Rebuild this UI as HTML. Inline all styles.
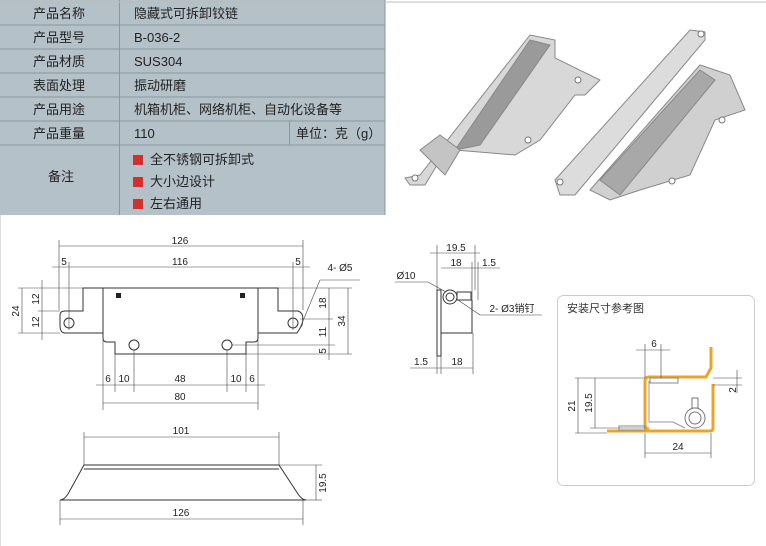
<!DOCTYPE html>
<html><head><meta charset="utf-8"><style>
body{margin:0;width:766px;height:546px;background:#fff;overflow:hidden;font-family:"Liberation Sans","Noto Sans CJK SC",sans-serif}
svg{position:absolute;left:0;top:0}
</style></head><body>
<svg width="766" height="546" viewBox="0 0 766 546" font-family="Liberation Sans, Noto Sans CJK SC, sans-serif">
<!-- table -->
<rect x="0" y="0" width="385" height="215" fill="#b4c1c9"/>
<g stroke="#8a979f" stroke-width="1">
<line x1="0" y1="25" x2="385" y2="25"/><line x1="0" y1="49" x2="385" y2="49"/>
<line x1="0" y1="73" x2="385" y2="73"/><line x1="0" y1="97" x2="385" y2="97"/>
<line x1="0" y1="121" x2="385" y2="121"/><line x1="0" y1="145" x2="385" y2="145"/>
<line x1="119.5" y1="0" x2="119.5" y2="215"/><line x1="289.5" y1="121" x2="289.5" y2="145"/>
<line x1="385" y1="0" x2="385" y2="215"/>
</g>
<g font-size="13" fill="#222">
<text x="33" y="18">产品名称</text><text x="33" y="42">产品型号</text><text x="33" y="66">产品材质</text>
<text x="33" y="90">表面处理</text><text x="33" y="114">产品用途</text><text x="33" y="138">产品重量</text>
<text x="48" y="181">备注</text>
<text x="134" y="18">隐藏式可拆卸铰链</text><text x="134" y="42">B-036-2</text><text x="134" y="66">SUS304</text>
<text x="134" y="90">振动研磨</text><text x="134" y="114">机箱机柜、网络机柜、自动化设备等</text>
<text x="134" y="138">110</text><text x="296" y="138">单位：克（g）</text>
<text x="150" y="164">全不锈钢可拆卸式</text><text x="150" y="186">大小边设计</text><text x="150" y="208">左右通用</text>
</g>
<rect x="133" y="155" width="10" height="10" fill="#d0312d"/><rect x="133" y="177" width="10" height="10" fill="#d0312d"/><rect x="133" y="199" width="10" height="10" fill="#d0312d"/>
<line x1="0" y1="2" x2="766" y2="2" stroke="#bbb"/>
<line x1="0" y1="215" x2="0" y2="546" stroke="#bbb"/>
<!-- photos -->
<g stroke="#888" stroke-width="1">
<polygon points="405,178 420,175 530,35 555,40 555,58 600,80 585,95 575,95 540,140 515,155 455,150 440,160 425,185 410,185" fill="#d8d8d8"/>
<polygon points="455,150 530,40 550,45 480,145" fill="#9a9a9a"/>
<polygon points="420,150 440,135 460,150 445,175" fill="#c4c4c4"/>
<polygon points="555,180 690,30 705,32 705,40 575,195 560,195" fill="#dcdcdc"/>
<polygon points="590,190 700,65 730,75 745,110 715,120 690,175 640,190 610,200" fill="#d0d0d0"/>
<polygon points="600,180 700,70 715,80 620,195" fill="#a8a8a8"/>
</g>
<g fill="#fff" stroke="#777"><circle cx="415" cy="178" r="3"/><circle cx="578" cy="80" r="3"/><circle cx="528" cy="140" r="3"/><circle cx="560" cy="182" r="3"/><circle cx="701" cy="34" r="3"/><circle cx="722" cy="120" r="3"/><circle cx="672" cy="181" r="3"/></g>
<!-- front view -->
<g stroke="#333" stroke-width="1" fill="none">
<path d="M83,288 H278 V311 H298 Q305,313 302,325 L297,333 H258 V338 Q258,342 254,342 H246 V354 H115 V342 H107 Q103,342 103,338 V333 H65 Q60,333 60,325 V315 Q60,311 65,311 H83 Z"/>
<line x1="103" y1="288" x2="103" y2="333"/><line x1="258" y1="288" x2="258" y2="333"/>
</g>
<g fill="none" stroke="#333"><circle cx="69" cy="323" r="5"/><circle cx="293" cy="323" r="5"/><circle cx="134" cy="345" r="5"/><circle cx="227" cy="345" r="5"/></g>
<rect x="116" y="293" width="5" height="5" fill="#222"/><rect x="240" y="293" width="5" height="5" fill="#222"/>
<g stroke="#444" stroke-width="0.6" fill="none">
<line x1="59" y1="240" x2="59" y2="310"/><line x1="303" y1="240" x2="303" y2="310"/>
<line x1="59" y1="246" x2="303" y2="246"/>
<line x1="52" y1="267" x2="310" y2="267"/>
<line x1="69" y1="262" x2="69" y2="330"/><line x1="293" y1="262" x2="293" y2="330"/>
<line x1="22" y1="288" x2="22" y2="333"/><line x1="42" y1="280" x2="42" y2="340"/>
<line x1="18" y1="288" x2="83" y2="288"/><line x1="18" y1="333" x2="60" y2="333"/><line x1="38" y1="311" x2="60" y2="311"/>
<line x1="278" y1="288" x2="352" y2="288"/><line x1="300" y1="319" x2="333" y2="319"/><line x1="232" y1="345" x2="335" y2="345"/><line x1="246" y1="354" x2="352" y2="354"/>
<line x1="329" y1="288" x2="329" y2="360"/><line x1="348" y1="288" x2="348" y2="354"/>
<line x1="96" y1="385" x2="265" y2="385"/><line x1="103" y1="403" x2="258" y2="403"/>
<line x1="115" y1="354" x2="115" y2="392"/><line x1="134" y1="350" x2="134" y2="392"/><line x1="227" y1="350" x2="227" y2="392"/><line x1="246" y1="354" x2="246" y2="392"/>
<line x1="103" y1="340" x2="103" y2="410"/><line x1="258" y1="340" x2="258" y2="410"/>
<line x1="300" y1="328" x2="320" y2="280"/><line x1="320" y1="280" x2="360" y2="280"/>
</g>
<g font-size="10" fill="#222" text-anchor="middle">
<text x="180" y="244">126</text><text x="180" y="265">116</text><text x="64" y="265">5</text><text x="298" y="265">5</text>
<text x="340" y="271">4- Ø5</text>
<text x="108" y="382">6</text><text x="124" y="382">10</text><text x="180" y="382">48</text><text x="236" y="382">10</text><text x="252" y="382">6</text>
<text x="180" y="400">80</text>
<text transform="translate(19,311) rotate(-90)">24</text><text transform="translate(39,299) rotate(-90)">12</text><text transform="translate(39,322) rotate(-90)">12</text>
<text transform="translate(326,303) rotate(-90)">18</text><text transform="translate(326,332) rotate(-90)">11</text><text transform="translate(326,351) rotate(-90)">5</text><text transform="translate(345,321) rotate(-90)">34</text>
</g>
<!-- bottom view -->
<g stroke="#333" fill="none">
<path d="M84,465 H279 L298,494 Q302,500 306,500 H60 Q64,500 68,494 Z"/>
<line x1="84" y1="469" x2="279" y2="469"/>
</g>
<g stroke="#444" stroke-width="0.6">
<line x1="84" y1="437" x2="279" y2="437"/><line x1="84" y1="432" x2="84" y2="465"/><line x1="279" y1="432" x2="279" y2="465"/>
<line x1="60" y1="519" x2="303" y2="519"/><line x1="60" y1="500" x2="60" y2="525"/><line x1="303" y1="500" x2="303" y2="525"/>
<line x1="316" y1="465" x2="316" y2="500"/><line x1="279" y1="465" x2="322" y2="465"/><line x1="306" y1="500" x2="322" y2="500"/>
</g>
<g font-size="10" fill="#222" text-anchor="middle"><text x="181" y="434">101</text><text x="181" y="516">126</text><text transform="translate(326,483) rotate(-90)">19.5</text></g>
<!-- side view -->
<g stroke="#333" fill="none">
<rect x="437" y="290" width="4" height="66"/>
<path d="M441,300 V333 H472 V300"/>
<circle cx="450" cy="297" r="7"/><circle cx="450" cy="297" r="4"/>
<rect x="457" y="292" width="14" height="8"/>
</g>
<g stroke="#444" stroke-width="0.6">
<line x1="430" y1="253" x2="480" y2="253"/><line x1="437" y1="245" x2="437" y2="290"/><line x1="475" y1="245" x2="475" y2="290"/>
<line x1="441" y1="268" x2="500" y2="268"/><line x1="472" y1="262" x2="472" y2="300"/><line x1="478" y1="262" x2="478" y2="300"/>
<line x1="395" y1="282" x2="428" y2="282"/><line x1="428" y1="282" x2="446" y2="292"/>
<line x1="458" y1="300" x2="480" y2="315"/><line x1="480" y1="315" x2="542" y2="315"/>
<line x1="410" y1="368" x2="473" y2="368"/><line x1="437" y1="356" x2="437" y2="374"/><line x1="441" y1="356" x2="441" y2="374"/><line x1="473" y1="333" x2="473" y2="374"/>
</g>
<g font-size="10" fill="#222" text-anchor="middle"><text x="456" y="251">19.5</text><text x="456" y="266">18</text><text x="489" y="266">1.5</text>
<text x="406" y="279">Ø10</text><text x="512" y="312">2- Ø3销钉</text><text x="421" y="365">1.5</text><text x="457" y="365">18</text></g>
<!-- install box -->
<rect x="557.5" y="295.5" width="197" height="190" rx="6" fill="#fff" stroke="#ccc"/>
<text x="567" y="312" font-size="11" fill="#333">安装尺寸参考图</text>
<g fill="none">
<path d="M711,347 V368 L706,377 H649 Q645,377 645,381 V425 Q645,429 649,429" stroke="#e8a628" stroke-width="3"/>
<path d="M607,431 H710 Q713,431 713,428 V384" stroke="#e8a628" stroke-width="3"/>
<path d="M649,381 V422 H673 L685,428" stroke="#999" stroke-width="1"/>
<circle cx="695" cy="418" r="10" stroke="#777"/><circle cx="695" cy="418" r="6" stroke="#777"/>
<rect x="692" y="398" width="6" height="10" stroke="#777"/>
<rect x="650" y="378" width="28" height="5" stroke="#888"/>
<rect x="619" y="426" width="26" height="4" stroke="#888"/>
</g>
<g stroke="#444" stroke-width="0.6">
<line x1="636" y1="350" x2="670" y2="350"/><line x1="645" y1="344" x2="645" y2="378"/><line x1="661" y1="344" x2="661" y2="378"/>
<line x1="575" y1="378" x2="645" y2="378"/><line x1="575" y1="433" x2="607" y2="433"/><line x1="590" y1="428" x2="645" y2="428"/>
<line x1="578" y1="378" x2="578" y2="433"/><line x1="595" y1="378" x2="595" y2="428"/>
<line x1="645" y1="433" x2="645" y2="458"/><line x1="711" y1="433" x2="711" y2="458"/><line x1="645" y1="453" x2="711" y2="453"/>
<line x1="713" y1="378" x2="742" y2="378"/><line x1="713" y1="385" x2="742" y2="385"/><line x1="737" y1="370" x2="737" y2="393"/>
</g>
<g font-size="10" fill="#222" text-anchor="middle"><text x="654" y="347">6</text><text x="678" y="450">24</text>
<text transform="translate(575,406) rotate(-90)">21</text><text transform="translate(592,403) rotate(-90)">19.5</text><text transform="translate(736,390) rotate(-90)">2</text></g>
</svg>
</body></html>
